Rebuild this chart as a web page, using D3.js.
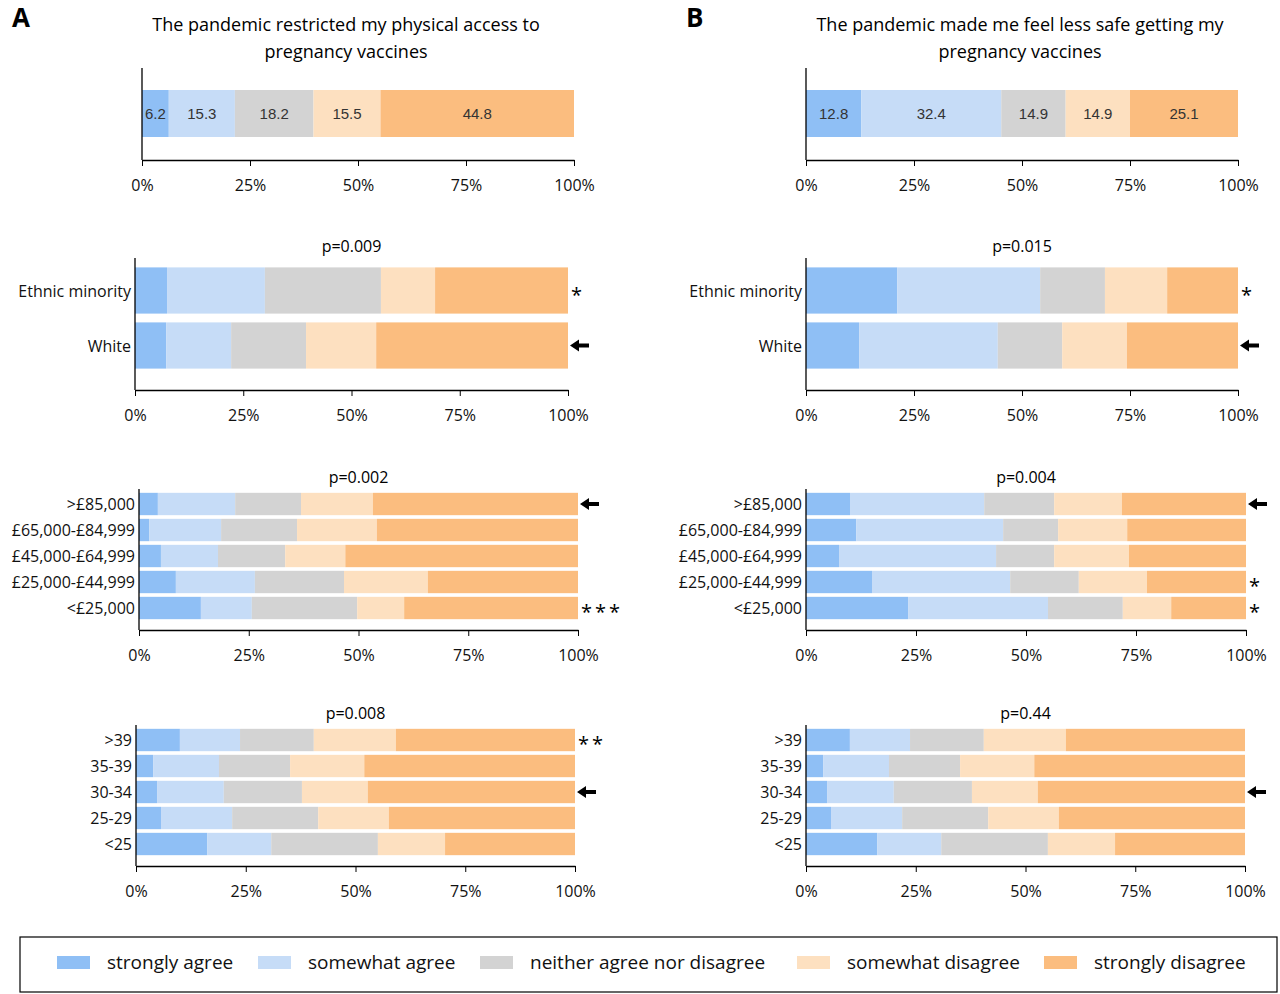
<!DOCTYPE html>
<html><head><meta charset="utf-8">
<script src="https://cdn.jsdelivr.net/npm/d3@7"></script>
<style>body{margin:0;background:#fff}text{font-family:"Open Sans","Noto Sans",sans-serif}</style>
</head><body><div id="chart"></div>
<script>
var levels = ["strongly agree","somewhat agree","neither agree nor disagree","somewhat disagree","strongly disagree"];
var colors = ["#8fbff5","#c6dcf7","#d3d3d3","#fde0c0","#fbbd7f"];
var ticks = [0,25,50,75,100];

// values are cumulative boundaries (%) between the 5 levels
var accessOverall = [6.2,15.3,18.2,15.5,44.8];
var safeOverall = [12.8,32.4,14.9,14.9,25.1];
var ethCats = ["Ethnic minority","White"];
var accessEth = [[7.4,30.0,56.8,69.3],[7.2,22.2,39.5,55.7]];
var safeEth = [[21.1,54.2,69.2,83.6],[12.3,44.4,59.3,74.3]];
var incCats = [">£85,000","£65,000-£84,999","£45,000-£64,999","£25,000-£44,999","<£25,000"];
var accessInc = [[4.3,21.9,36.9,53.3],[2.3,18.7,36.0,54.2],[5.0,18.0,33.3,47.0],[8.4,26.4,46.7,65.8],[14.1,25.7,49.7,60.4]];
var safeInc = [[10.0,40.5,56.4,71.8],[11.4,44.8,57.3,73.0],[7.5,43.2,56.4,73.4],[15.0,46.4,62.0,77.5],[23.2,55.0,72.0,83.0]];
var ageCats = [">39","35-39","30-34","25-29","<25"];
var accessAge = [[10.0,23.7,40.5,59.2],[3.9,18.9,35.1,52.0],[4.8,20.0,37.8,52.8],[5.7,21.9,41.5,57.6],[16.2,30.8,55.1,70.4]];
var safeAge = accessAge;
var accessMarks = {eth:["*","arrow"], inc:["arrow","","","","***"], age:["**","","arrow","",""]};
var safeMarks = {eth:["*","arrow"], inc:["arrow","","","*","*"], age:["","","arrow","",""]};

var svg = d3.select("#chart").append("svg").attr("width",1280).attr("height",994);

function segs(bounds){
  var b=[0].concat(bounds,[100]);
  return d3.range(5).map(function(i){return {i:i,a:b[i],b:b[i+1]};});
}
function cum(vals){ var s=0; return vals.slice(0,4).map(function(v){s+=v;return s;}); }

function drawChart(o){
  var x = d3.scaleLinear().domain([0,100]).range([o.x0,o.x1]);
  var y = d3.scaleBand().domain(o.cats).range([o.top,o.top+o.step*o.cats.length]).paddingInner(o.pad).paddingOuter(o.pad/2);
  var g = svg.append("g");
  o.data.forEach(function(bounds,ri){
    var c=o.cats[ri];
    g.selectAll(null).data(segs(bounds)).enter().append("rect")
      .attr("x",function(d){return x(d.a);}).attr("width",function(d){return x(d.b)-x(d.a);})
      .attr("y",y(c)).attr("height",y.bandwidth()).attr("fill",function(d){return colors[d.i];});
    if(o.labels){
      g.selectAll(null).data(segs(bounds)).enter().append("text")
        .attr("x",function(d){return (x(d.a)+x(d.b))/2;}).attr("y",y(c)+y.bandwidth()/2+5)
        .attr("text-anchor","middle").style("font-family","'Liberation Sans Narrow',sans-serif").style("font-size","15px").attr("fill","#333")
        .text(function(d){return o.labels[d.i];});
    }
    var m = o.marks ? o.marks[ri] : "";
    var cy = y(c)+y.bandwidth()/2;
    if(m==="arrow"){
      var ax=x(100)+2;
      g.append("path").attr("d","M"+ax+","+cy+" l9,-6 v4 h10 v4 h-10 v4 z").attr("fill","#000");
    } else if(m){
      g.append("text").attr("x",x(100)+3).attr("y",cy+11).style("font-size","20px").style("letter-spacing","3px").text(m);
    }
    if(o.showCats){
      g.append("text").attr("x",o.x0-4).attr("y",cy+6).attr("text-anchor","end").style("font-size","16px").attr("fill","#111").text(c);
    }
  });
  var ax = svg.append("g").attr("transform","translate(0,"+o.bottom+")")
    .call(d3.axisBottom(x).tickValues(ticks).tickFormat(function(d){return d+"%";}).tickSize(6).tickSizeOuter(0));
  ax.select(".domain").attr("stroke","#000").attr("stroke-width",1.3);
  ax.selectAll("text").style("font-size","16px").attr("dy","1.4em").attr("fill","#111").style("font-family","'Open Sans',sans-serif");
  svg.append("line").attr("x1",o.x0).attr("x2",o.x0).attr("y1",o.axTop).attr("y2",o.bottom).attr("stroke","#000").attr("stroke-width",1.3);
  if(o.p) svg.append("text").attr("x",(o.x0+o.x1)/2).attr("y",o.axTop-6).attr("text-anchor","middle").style("font-size","16px").text(o.p);
}

function panel(px, overall, eth, inc, age, marks, title, letter, p, ox){
  svg.append("text").attr("x",ox).attr("y",27).style("font-size","26px").style("font-weight","bold").text(letter);
  title.forEach(function(t,i){
    svg.append("text").attr("x",px.c).attr("y",31+i*27).attr("text-anchor","middle").style("font-size","18px").text(t);
  });
  drawChart({x0:px.t0,x1:px.t1,cats:["all"],data:[cum(overall)],labels:overall.map(String),top:90,step:47,pad:0,axTop:68,bottom:160});
  drawChart({x0:px.e0,x1:px.e1,cats:ethCats,data:eth,marks:marks.eth,showCats:true,top:263,step:55,pad:0.16,axTop:258,bottom:390,p:p[0]});
  drawChart({x0:px.i0,x1:px.i1,cats:incCats,data:inc,marks:marks.inc,showCats:true,top:491,step:26,pad:0.14,axTop:489,bottom:630,p:p[1]});
  drawChart({x0:px.a0,x1:px.a1,cats:ageCats,data:age,marks:marks.age,showCats:true,top:727,step:26,pad:0.14,axTop:725,bottom:866,p:p[2]});
}

panel({c:346,t0:142,t1:574,e0:135,e1:568,i0:139,i1:578,a0:136,a1:575}, accessOverall, accessEth, accessInc, accessAge, accessMarks,
  ["The pandemic restricted my physical access to","pregnancy vaccines"],"A",["p=0.009","p=0.002","p=0.008"],12);
panel({c:1020,t0:806,t1:1238,e0:806,e1:1238,i0:806,i1:1246,a0:806,a1:1245}, safeOverall, safeEth, safeInc, safeAge, safeMarks,
  ["The pandemic made me feel less safe getting my","pregnancy vaccines"],"B",["p=0.015","p=0.004","p=0.44"],686);

// legend
svg.append("rect").attr("x",20).attr("y",937).attr("width",1257).attr("height",55).attr("fill","none").attr("stroke","#000").attr("stroke-width",1.2);
var lx=[57,258,480,797,1044];
levels.forEach(function(l,i){
  svg.append("rect").attr("x",lx[i]).attr("y",956).attr("width",33).attr("height",13).attr("fill",colors[i]);
  svg.append("text").attr("x",lx[i]+50).attr("y",969).style("font-size","19px").attr("fill","#111").text(l);
});
</script></body></html>
